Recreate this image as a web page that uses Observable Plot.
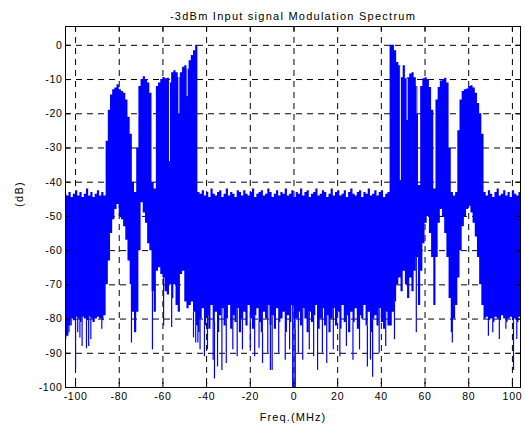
<!DOCTYPE html>
<html><head><meta charset="utf-8">
<script src="https://cdn.jsdelivr.net/npm/d3@7"></script>
<script src="https://cdn.jsdelivr.net/npm/@observablehq/plot@0.6"></script>
<style>body{margin:0;background:#fff} svg{display:block}</style>
</head><body><div id="chart"></div>
<script>
const title = "-3dBm Input signal Modulation Spectrum";
const xLabel = "Freq.(MHz)";
const yLabel = "(dB)";
const xTicks = [-100,-80,-60,-40,-20,0,20,40,60,80,100];
const yTicks = [-100,-90,-80,-70,-60,-50,-40,-30,-20,-10,0];
const freqStart = -105; // first sample (MHz), samples every 1 MHz

// upper envelope of the spectrum trace (dB), f = -105 ... 104
const topDB = [
  // -105 .. -87 noise floor
  -43.5,-44,-43,-44.5,-43.5,-42.5,-44,-43,-44.5,-43.5,-42,-44,-43,-44.5,-43.5,-42.5,-44,-43,-44,
  // -86 .. -44 lower-side carriers
  -28,-19,-14.5,-13,-12.5,-11.5,-13,-13.5,-14,-16,-21,-26,-40,-43,-30,-12,-10,-9.2,-10,-11,-14,
  -40,-42,-12,-11,-10,-9.4,-9.8,-9.6,-11,-8,-7.4,-8,-9.5,-8,-6.4,-6,-7,-4.5,-3,-1.6,0,-43,
  // -43 .. 43 noise floor
  -43.5,-42.5,-44,-43,-44.5,-42,-43.5,-44,-43,-42.5,
  -44.5,-43.5,-42,-44,-43,-43.5,-44.5,-42.5,-43,-44,
  -42.5,-43.5,-44,-43,-42,-44.5,-43.5,-43,-42.5,-44,
  -43.5,-42,-43,-44.5,-43.5,-42.5,-44,-43,-43.5,-42,
  -44,-43.5,-42.5,-44.5,-43,-43.5,-42,-44,-43,-42.5,
  -44.5,-43.5,-43,-42,-44,-43.5,-42.5,-43,-44.5,-43.5,
  -42,-44,-43,-42.5,-44,-43.5,-42.5,-44.5,-43,-42,
  -43.5,-44,-43,-42.5,-44.5,-43,-43.5,-42,-44,-43.5,
  -42.5,-44,-43,-42.5,-44.5,-43.5,-43,
  // 44 .. 86 upper-side carriers
  0,0,-1.6,-5,-6,-9.5,-6,-9.8,-9.5,-8.4,-8,-9.5,-12,-41,-12,-9.8,-9.5,-10,-12.3,-19,-42,
  -16,-12.3,-10.4,-10,-9.6,-11,-30,-43,-44,-43,-25,-16,-13.5,-13,-12.8,-12,-11.8,-12.5,-14,-17,-20,-26,
  // 87 .. 104 noise floor
  -43,-44,-42.5,-43.5,-44.5,-43,-42,-44,-43.5,-42.5,-44,-43,-44.5,-42.5,-43.5,-44,-43,-44
];

// lower envelope of the spectrum trace (dB)
const bottomDB = [
  -86,-85,-82,-80,-80.5,-79.5,-80,-81,-79.5,-80,-80.5,-79.5,-80,-81,-80,-79.5,-80,-80.5,-79,
  -70,-63,-55,-51,-48,-46.5,-50,-51,-53,-57,-63,-70,-78,-84,-78,-60,-46,-49,-52,-58,-60,
  -72,-78,-66,-65,-67,-68,-72,-73,-70,-74,-70,-76,-78,-67,-66,-75,-77,-76,-75,-78,-82,-84,
  -80,-77,-82,-79,-83,-76,-81,-78,-84,-79,
  -77,-82,-80,-76,-83,-79,-81,-77,-84,-80,
  -78,-82,-76,-80,-83,-79,-77,-81,-84,-78,
  -80,-76,-82,-79,-83,-77,-81,-80,-78,-84,
  -79,-81,-76,-83,-80,-78,-82,-77,-80,-84,
  -78,-81,-79,-76,-83,-80,-77,-82,-79,-84,
  -80,-77,-82,-78,-83,-76,-81,-79,-84,-78,
  -81,-77,-83,-79,-80,-76,-82,-78,-84,-80,
  -79,-82,-77,-81,-83,-78,-82,
  -82,-78,-75,-70,-68,-72,-66,-70,-74,-68,-72,-66,-62,-76,-66,-58,-52,-50,-55,-62,-76,
  -62,-52,-48,-50,-55,-62,-74,-84,-80,-76,-68,-60,-53,-50,-48,-47,-49,-52,-56,-62,-70,-76,
  -80,-79.5,-80.5,-80,-81,-79.5,-80,-80.5,-79,-80,-81,-80,-79.5,-80.5,-80,-81,-79.5,-80
];

// deep downward excursions below the lower envelope
const spikeF  = [-103,-102,-100,-99,-98,-97,-95,-94,-93,-88,-74.4,-64.8,-59.7,-56,-46,-45,-44,-43,-41,-39.6,-37,-36.4,-35,-33,-31,-28,-26,-23.6,-20,-18,-16,-14.4,-12,-10.8,-10,-7,-4,-2,-0.6,0,0.6,2,4,7,9,10.8,13,15,18,21,24,27,30,33.6,35,36,39,42,46,56,72.5,89,91,94,97,100.5,102];
const spikeDB = [-84,-82,-94.5,-84,-85.5,-88,-88.7,-88,-86,-83,-87,-89,-82,-82.5,-85.5,-87,-87,-89,-91,-89,-92,-97.5,-94,-95,-93,-89,-91,-89,-88.5,-91,-88.5,-93,-90,-95,-95,-90,-92,-89,-100,-100,-100,-90,-92,-89,-91,-95,-90,-93,-89,-91,-88,-92,-89,-94,-92,-97,-90,-88,-86,-84,-87,-85,-84,-86,-83,-95,-86];

// narrow gaps cutting down from the upper envelope
const slitF  = [-57, -52.7, -48.9, 48.7, 51.8, 56.4];
const slitDB = [-34, -20, -15, -39.5, -22, -20];

const idx = f => Math.floor(f) - freqStart;
const rows = topDB.map((t, i) => ({f: freqStart + i, top: t, bottom: bottomDB[i]}));
const spikes = spikeF.map((f, i) => ({f, from: bottomDB[idx(f)], to: spikeDB[i]}));
const slits = slitF.map((f, i) => ({f, from: topDB[idx(f)], to: slitDB[i]}));

const W = 526, H = 428, mL = 65, mR = 6, mT = 26, mB = 41;
const fw = W - mL - mR, fh = H - mT - mB, tick = 5;
const blue = "#0000ff";

const chart = Plot.plot({
  width: W, height: H,
  marginLeft: mL, marginRight: mR, marginTop: mT, marginBottom: mB,
  x: {domain: [-104.6, 103.7], label: null},
  y: {domain: [-100, 5.5], label: null},
  style: {fontFamily: "'Liberation Sans', Arial, sans-serif", background: "#fff", color: "#000"},
  marks: [
    Plot.ruleX(xTicks, {stroke: "#000", strokeWidth: 1, strokeDasharray: "6,5"}),
    Plot.ruleY(yTicks, {stroke: "#000", strokeWidth: 1, strokeDasharray: "6,5"}),
    Plot.areaY(rows, {x: "f", y1: "bottom", y2: "top", curve: "step-after", fill: blue, clip: true}),
    Plot.ruleX(spikes, {x: "f", y1: "from", y2: "to", stroke: blue, strokeWidth: 1.2, clip: true}),
    Plot.ruleX(slits, {x: "f", y1: "from", y2: "to", stroke: "#fff", strokeWidth: 1, clip: true}),
    Plot.ruleX(xTicks, {stroke: "#000", insetTop: fh - tick}),
    Plot.ruleX(xTicks, {stroke: "#000", insetBottom: fh - tick}),
    Plot.ruleY(yTicks, {stroke: "#000", insetRight: fw - tick}),
    Plot.ruleY(yTicks, {stroke: "#000", insetLeft: fw - tick}),
    Plot.frame({stroke: "#000", strokeWidth: 1}),
    Plot.axisX(xTicks, {anchor: "bottom", tickSize: 0, tickPadding: 5, fontSize: 10.5, tickFormat: d => String(d), label: null}),
    Plot.axisY(yTicks, {anchor: "left", tickSize: 0, tickPadding: 3, fontSize: 10.5, tickFormat: d => String(d), label: null}),
    Plot.text([title], {text: d => d, frameAnchor: "top", dy: -14, fontSize: 11, fill: "#000"}),
    Plot.text([xLabel], {text: d => d, frameAnchor: "bottom", dy: 33, fontSize: 11, fill: "#000"}),
    Plot.text([yLabel], {text: d => d, frameAnchor: "left", dx: -46, rotate: -90, fontSize: 11, fill: "#000"})
  ]
});
document.getElementById("chart").appendChild(chart);
const spacingFor = s => s === title ? "1.25px" : s === xLabel ? "1.1px" : s === yLabel ? "1.3px" : "0.7px";
chart.querySelectorAll("text").forEach(t => {
  const v = spacingFor(t.textContent);
  t.setAttribute("letter-spacing", v);
  t.style.letterSpacing = v;
});
</script>
</body></html>
